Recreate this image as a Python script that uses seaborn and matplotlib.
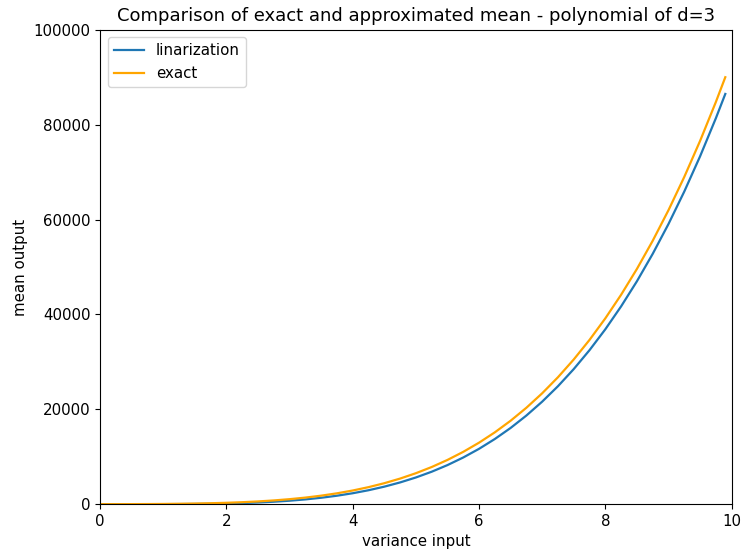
import matplotlib
matplotlib.use("Agg")
import matplotlib.pyplot as plt
import seaborn as sns
import pandas as pd

variance = [0, 0.25, 0.5, 0.75, 1, 1.25, 1.5, 1.75, 2, 2.25, 2.5, 2.75, 3, 3.25, 3.5, 3.75,
            4, 4.25, 4.5, 4.75, 5, 5.25, 5.5, 5.75, 6, 6.25, 6.5, 6.75, 7, 7.25, 7.5, 7.75,
            8, 8.25, 8.5, 8.75, 9, 9.25, 9.5, 9.75, 9.9]
linearization = [0, 0, 1, 3, 9, 22, 46, 84, 144, 231, 352, 515, 729, 1004, 1351, 1780,
                 2304, 2936, 3691, 4582, 5625, 6837, 8235, 9838, 11664, 13733, 16065, 18683,
                 21609, 24865, 28477, 32468, 36864, 41693, 46977, 52756, 59049, 65888, 73301,
                 81332, 86469]
exact = [0, 2, 10, 23, 45, 78, 127, 195, 288, 413, 577, 787, 1053, 1384, 1792, 2286,
         2880, 3587, 4420, 5394, 6525, 7829, 9324, 11028, 12960, 15139, 17586, 20323,
         23373, 26757, 30502, 34630, 39168, 44143, 49578, 55512, 61965, 68968, 76550,
         84754, 89997]

df = pd.DataFrame({"variance": variance, "linarization": linearization, "exact": exact})

plt.rcParams["font.size"] = 10.8
plt.rcParams["lines.linewidth"] = 1.6

fig = plt.figure(figsize=(7.42, 5.51), dpi=100)
ax = fig.add_axes([0.135, 0.085, 0.851, 0.861])
sns.lineplot(data=df, x="variance", y="linarization", ax=ax, color="#1f77b4", label="linarization")
sns.lineplot(data=df, x="variance", y="exact", ax=ax, color="orange", label="exact")
ax.set_xlim(0, 10)
ax.set_ylim(0, 100000)
ax.set_xlabel("variance input")
ax.set_ylabel("mean output")
ax.set_title("Comparison of exact and approximated mean - polynomial of d=3")
ax.legend(loc="upper left")
fig.savefig("out.png", dpi=100)
